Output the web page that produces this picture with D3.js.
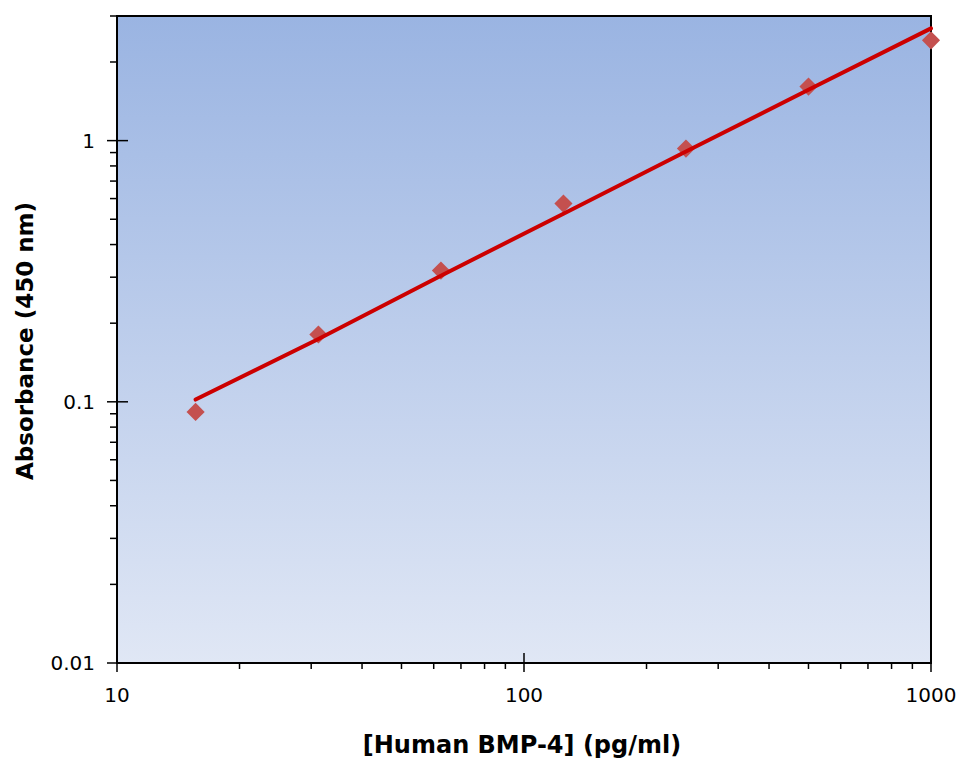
<!DOCTYPE html>
<html>
<head>
<meta charset="utf-8">
<script src="https://cdn.jsdelivr.net/npm/d3@7"></script>
<style>
  body { margin: 0; background: #fff; }
  text { font-family: "DejaVu Sans", Verdana, sans-serif; }
</style>
</head>
<body>
<div id="viz"></div>
<script>
// standard concentrations (pg/ml) and measured absorbance
const conc = [15.6, 31.25, 62.5, 125, 250, 500, 1000];
const absorb = [0.0915, 0.181, 0.318, 0.574, 0.932, 1.61, 2.42];
// fitted curve at the same concentrations
const fitConc = [15.6, 31.25, 62.5, 125, 250, 500, 1000];
const fitAbs = [0.102, 0.174, 0.304, 0.525, 0.908, 1.567, 2.69];
const xTicks = [10, 100, 1000];
const yTicks = [0.01, 0.1, 1];
const yLabels = ['0.01', '0.1', '1'];

const W = 959, H = 758;
const pl = 117, pr = 931, pt = 16, pb = 663;

const svg = d3.select('#viz').append('svg')
    .attr('width', W)
    .attr('height', H);

const x = d3.scaleLog().domain([10, 1000]).range([pl, pr]);
const y = d3.scaleLog().domain([0.01, 3]).range([pb, pt]);

// background gradient
const grad = svg.append('defs').append('linearGradient')
    .attr('id', 'bg')
    .attr('x1', 0).attr('y1', 0).attr('x2', 0).attr('y2', 1);
grad.append('stop').attr('offset', '0%').attr('stop-color', '#9AB4E2');
grad.append('stop').attr('offset', '100%').attr('stop-color', '#E0E7F5');

svg.append('rect')
    .attr('x', pl).attr('y', pt)
    .attr('width', pr - pl).attr('height', pb - pt)
    .attr('fill', 'url(#bg)');

// minor ticks (outward only)
const xMinor = x.ticks().filter(v => !xTicks.includes(v));
const yMinor = y.ticks().filter(v => !yTicks.some(t => Math.abs(t - v) < 1e-9));

svg.selectAll('line.xminor')
    .data(xMinor)
    .enter().append('line')
    .attr('class', 'xminor')
    .attr('x1', d => x(d)).attr('x2', d => x(d))
    .attr('y1', pb).attr('y2', pb + 6)
    .attr('stroke', '#000').attr('stroke-width', 1.5);

svg.selectAll('line.yminor')
    .data(yMinor)
    .enter().append('line')
    .attr('class', 'yminor')
    .attr('y1', d => y(d)).attr('y2', d => y(d))
    .attr('x1', pl - 7).attr('x2', pl)
    .attr('stroke', '#000').attr('stroke-width', 1.5);

// major ticks (crossing)
svg.selectAll('line.xmajor')
    .data(xTicks)
    .enter().append('line')
    .attr('class', 'xmajor')
    .attr('x1', d => x(d)).attr('x2', d => x(d))
    .attr('y1', pb - 10).attr('y2', pb + 9)
    .attr('stroke', '#000').attr('stroke-width', 1.5);

svg.selectAll('line.ymajor')
    .data(yTicks)
    .enter().append('line')
    .attr('class', 'ymajor')
    .attr('y1', d => y(d)).attr('y2', d => y(d))
    .attr('x1', pl - 10).attr('x2', pl + 11)
    .attr('stroke', '#000').attr('stroke-width', 1.5);

// frame
svg.append('rect')
    .attr('x', pl).attr('y', pt)
    .attr('width', pr - pl).attr('height', pb - pt)
    .attr('fill', 'none')
    .attr('stroke', '#000').attr('stroke-width', 2);

// tick labels
svg.selectAll('text.xlab')
    .data(xTicks)
    .enter().append('text')
    .attr('class', 'xlab')
    .attr('x', d => x(d)).attr('y', 702)
    .attr('text-anchor', 'middle')
    .attr('font-size', 20)
    .text(d => d);

svg.selectAll('text.ylab')
    .data(yTicks)
    .enter().append('text')
    .attr('class', 'ylab')
    .attr('x', 95).attr('y', d => y(d))
    .attr('dy', '0.36em')
    .attr('text-anchor', 'end')
    .attr('font-size', 20)
    .text((d, i) => yLabels[i]);

// axis titles
svg.append('text')
    .attr('x', (pl + pr) / 2 - 2).attr('y', 753)
    .attr('text-anchor', 'middle')
    .attr('font-size', 24).attr('font-weight', 'bold')
    .text('[Human BMP-4] (pg/ml)');

svg.append('text')
    .attr('transform', 'translate(33,341) rotate(-90)')
    .attr('text-anchor', 'middle')
    .attr('font-size', 23).attr('font-weight', 'bold')
    .text('Absorbance (450 nm)');

// points
const pts = conc.map((c, i) => [c, absorb[i]]);
svg.selectAll('path.pt')
    .data(pts)
    .enter().append('path')
    .attr('class', 'pt')
    .attr('d', d3.symbol().type(d3.symbolDiamond2).size(210))
    .attr('transform', d => `translate(${x(d[0])},${y(d[1])})`)
    .attr('fill', '#C4504F');

// fitted line
const line = d3.line()
    .x(d => x(d[0]))
    .y(d => y(d[1]));

svg.append('path')
    .datum(fitConc.map((c, i) => [c, fitAbs[i]]))
    .attr('d', line)
    .attr('fill', 'none')
    .attr('stroke', '#CC0000')
    .attr('stroke-width', 4)
    .attr('stroke-linecap', 'round');
</script>
</body>
</html>
